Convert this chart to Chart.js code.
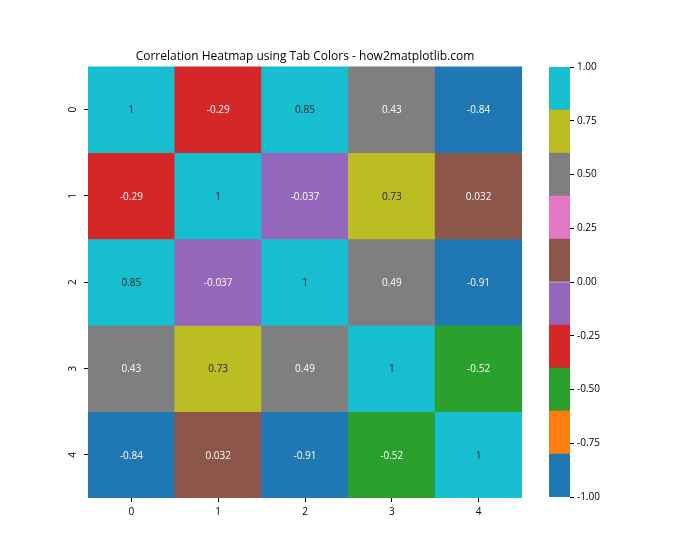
<!DOCTYPE html>
<html>
<head>
<title>Correlation Heatmap</title>
<style>
  body { margin: 0; background: #fff; }
  #wrap { position: relative; width: 700px; height: 560px; }
  #heat { position: absolute; left: 0; top: 0; }
  #bar { position: absolute; left: 540px; top: 0; }
</style>
</head>
<body>
<div id="wrap">
  <canvas id="heat" width="700" height="560"></canvas>
  <canvas id="bar" width="160" height="560"></canvas>
</div>
<script src="https://cdn.jsdelivr.net/npm/chart.js"></script>
<script>
const labels = ['0', '1', '2', '3', '4'];
const row0 = [1, -0.29, 0.85, 0.43, -0.84];
const row1 = [-0.29, 1, -0.037, 0.73, 0.032];
const row2 = [0.85, -0.037, 1, 0.49, -0.91];
const row3 = [0.43, 0.73, 0.49, 1, -0.52];
const row4 = [-0.84, 0.032, -0.91, -0.52, 1];
const rows = [row0, row1, row2, row3, row4];
const cbarTicks = [-1, -0.75, -0.5, -0.25, 0, 0.25, 0.5, 0.75, 1];

// tab10, mapped onto -1..1
const tab10 = ['#1f77b4', '#ff7f0e', '#2ca02c', '#d62728', '#9467bd',
               '#8c564b', '#e377c2', '#7f7f7f', '#bcbd22', '#17becf'];
function colorFor(v) {
  let i = Math.floor((v + 1) / 0.2);
  if (i > 9) i = 9;
  if (i < 0) i = 0;
  return tab10[i];
}
function textColorFor(hex) {
  const c = [1, 3, 5].map(k => parseInt(hex.substr(k, 2), 16) / 255)
    .map(x => x <= 0.03928 ? x / 12.92 : Math.pow((x + 0.055) / 1.055, 2.4));
  const lum = 0.2126 * c[0] + 0.7152 * c[1] + 0.0722 * c[2];
  return lum > 0.408 ? '#262626' : '#ffffff';
}

const FONT = "'Open Sans', 'DejaVu Sans', sans-serif";
Chart.defaults.font.family = FONT;
Chart.defaults.color = '#000';

const cellLabels = {
  id: 'cellLabels',
  afterDatasetsDraw(chart) {
    const ctx = chart.ctx;
    ctx.save();
    ctx.font = '10px ' + FONT;
    ctx.textAlign = 'center';
    ctx.textBaseline = 'middle';
    chart.data.datasets.forEach((ds, di) => {
      chart.getDatasetMeta(di).data.forEach((el, j) => {
        const v = rows[di][j];
        ctx.fillStyle = textColorFor(colorFor(v));
        ctx.fillText(String(v), el.x, (el.y + el.base) / 2 + 1);
      });
    });
    ctx.restore();
  }
};

// y tick labels rotated like matplotlib
const yLabels = {
  id: 'yLabels',
  afterDraw(chart) {
    const ctx = chart.ctx;
    const y = chart.scales.y;
    ctx.save();
    ctx.font = '10px ' + FONT;
    ctx.fillStyle = '#000';
    ctx.textAlign = 'center';
    ctx.textBaseline = 'middle';
    labels.forEach((lab, i) => {
      const py = y.getPixelForValue(i + 0.5);
      ctx.save();
      ctx.translate(y.right - 15, py);
      ctx.rotate(-Math.PI / 2);
      ctx.fillText(lab, 0, 0);
      ctx.restore();
    });
    ctx.restore();
  }
};

new Chart(document.getElementById('heat'), {
  type: 'bar',
  data: {
    labels: labels,
    datasets: rows.map((r, i) => ({
      data: r.map(() => [i, i + 1]),
      backgroundColor: r.map(colorFor),
      borderWidth: 0,
      barPercentage: 1,
      categoryPercentage: 1
    }))
  },
  options: {
    responsive: false,
    animation: false,
    layout: { padding: { left: 0, top: 49, right: 178, bottom: 32 } },
    plugins: {
      legend: { display: false },
      tooltip: { enabled: false },
      title: {
        display: true,
        text: 'Correlation Heatmap using Tab Colors - how2matplotlib.com',
        fullSize: false,
        color: '#000',
        font: { size: 12, weight: 'normal', family: FONT },
        padding: { top: 0, bottom: 3 }
      }
    },
    scales: {
      x: {
        stacked: true,
        border: { display: false },
        grid: { drawOnChartArea: false, drawTicks: true, tickLength: 4, color: '#000', offset: false },
        ticks: { font: { size: 10 }, color: '#000', padding: 4 },
        afterFit(s) { s.height = 30; }
      },
      y: {
        type: 'linear',
        reverse: true,
        min: 0,
        max: 5,
        border: { display: false },
        grid: { drawOnChartArea: false, drawTicks: true, tickLength: 4, color: '#000' },
        ticks: { display: true, color: 'rgba(0,0,0,0)', font: { size: 10 } },
        afterBuildTicks(s) { s.ticks = labels.map((l, i) => ({ value: i + 0.5 })); },
        afterFit(s) { s.width = 88; }
      }
    }
  },
  plugins: [cellLabels, yLabels]
});

// colorbar
new Chart(document.getElementById('bar'), {
  type: 'bar',
  data: {
    labels: [''],
    datasets: tab10.map((c, i) => ({
      data: [[-1 + i * 0.2, -1 + (i + 1) * 0.2]],
      backgroundColor: c,
      borderWidth: 0,
      barPercentage: 1,
      categoryPercentage: 1
    }))
  },
  options: {
    responsive: false,
    animation: false,
    layout: { padding: { left: 9, top: 67, right: 0, bottom: 63 } },
    plugins: { legend: { display: false }, tooltip: { enabled: false } },
    scales: {
      x: { stacked: true, display: false },
      y: {
        position: 'right',
        min: -1,
        max: 1,
        border: { display: false },
        grid: { drawOnChartArea: false, drawTicks: true, tickLength: 4, color: '#000' },
        ticks: { font: { size: 10 }, color: '#000', padding: 3, callback: v => Number(v).toFixed(2) },
        afterBuildTicks(s) { s.ticks = cbarTicks.map(v => ({ value: v })); },
        afterFit(s) { s.width = 130; }
      }
    }
  }
});
</script>
</body>
</html>
